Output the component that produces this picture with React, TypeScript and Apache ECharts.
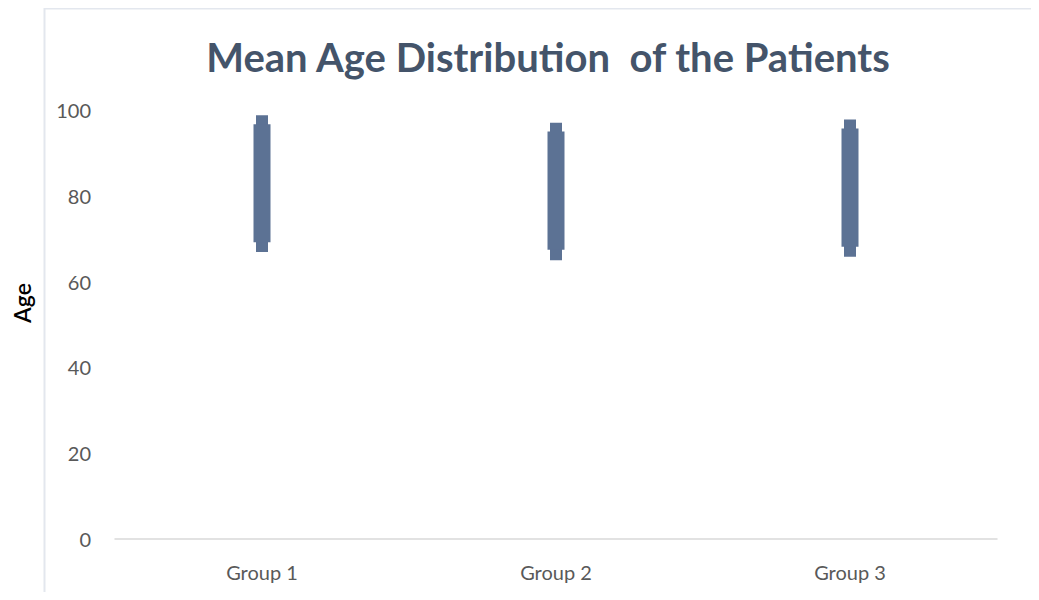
import React, { useEffect, useRef } from "react";
import * as echarts from "echarts";

const categories = ["Group 1", "Group 2", "Group 3"];
const capHigh = [98.8, 97.0, 97.8];
const bodyHigh = [96.7, 95.0, 95.7];
const bodyLow = [69.2, 67.4, 68.1];
const capLow = [66.9, 65.0, 65.8];
const yTicks = { min: 0, max: 100, interval: 20 };

export default function App() {
  const ref = useRef<HTMLDivElement>(null);
  useEffect(() => {
    if (!ref.current) return;
    const chart = echarts.init(ref.current, null, { renderer: "svg" });
    const data = categories.map((_, i) => [i, capLow[i], bodyLow[i], bodyHigh[i], capHigh[i]]);
    const color = "#5c7294";
    chart.setOption({
      animation: false,
      backgroundColor: "#ffffff",
      title: {
        text: "Mean Age Distribution  of the Patients",
        left: 543,
        top: 32,
        textAlign: "center",
        textStyle: { fontFamily: "Lato", fontWeight: "bold", fontSize: 40, color: "#44546a" },
      },
      graphic: [
        {
          type: "rect",
          shape: { x: 44.5, y: 8.5, width: 990, height: 620 },
          style: { fill: "none", stroke: "#e3e7ee", lineWidth: 2 },
          silent: true,
          z: -1,
        },
      ],
      grid: { left: 115, right: 42, top: 110, bottom: 61 },
      xAxis: {
        type: "category",
        data: categories,
        axisTick: { show: false },
        axisLine: { lineStyle: { color: "#d9d9d9", width: 1.5 } },
        axisLabel: { color: "#595959", fontFamily: "Lato", fontSize: 20, margin: 23 },
      },
      yAxis: {
        type: "value",
        min: yTicks.min,
        max: yTicks.max,
        interval: yTicks.interval,
        name: "Age",
        nameLocation: "middle",
        nameGap: 82,
        nameTextStyle: {
          fontFamily: "Lato",
          fontSize: 23,
          fontWeight: 600,
          color: "#000000",
          padding: [0, 0, 0, 43],
        },
        axisLine: { show: false },
        axisTick: { show: false },
        splitLine: { show: false },
        axisLabel: { color: "#595959", fontFamily: "Lato", fontSize: 20, margin: 24 },
      },
      series: [
        {
          type: "custom",
          data,
          encode: { x: 0, y: [1, 2, 3, 4] },
          renderItem: (params: any, api: any) => {
            const x = api.value(0);
            const pCapLow = api.coord([x, api.value(1)]);
            const pBodyLow = api.coord([x, api.value(2)]);
            const pBodyHigh = api.coord([x, api.value(3)]);
            const pCapHigh = api.coord([x, api.value(4)]);
            const capW = 12;
            const bodyW = 17;
            return {
              type: "group",
              children: [
                {
                  type: "rect",
                  shape: { x: pCapHigh[0] - capW / 2, y: pCapHigh[1], width: capW, height: pCapLow[1] - pCapHigh[1] },
                  style: { fill: color },
                },
                {
                  type: "rect",
                  shape: { x: pBodyHigh[0] - bodyW / 2, y: pBodyHigh[1], width: bodyW, height: pBodyLow[1] - pBodyHigh[1] },
                  style: { fill: color },
                },
              ],
            };
          },
        },
      ],
    });
    return () => chart.dispose();
  }, []);
  return <div ref={ref} style={{ width: 1039, height: 600, margin: -8 }} />;
}
